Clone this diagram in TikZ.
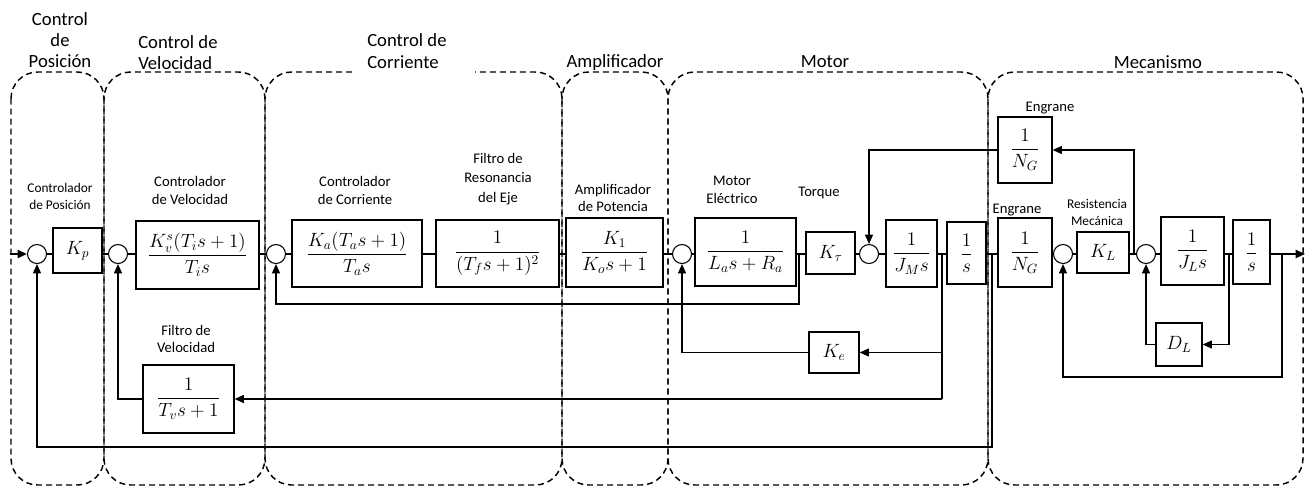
\documentclass[tikz,border=0pt]{standalone}
\usepackage{amsmath}
\usepackage{fontspec}
\setmainfont{Carlito}
\usetikzlibrary{arrows.meta}
\begin{document}
\begin{tikzpicture}[x=0.75pt,y=-0.75pt,
 grp/.style={draw, line width=1.1pt, dash pattern=on 4.5pt off 3pt, rounded corners=20pt},
 blk/.style={draw, line width=0.9pt, inner sep=0pt, font=\fontsize{14.5}{17}\selectfont},
 sumc/.style={draw, circle, line width=0.8pt, minimum size=14.25pt, inner sep=0pt},
 mainln/.style={line width=1.5pt},
 fb/.style={line width=1pt},
 arr/.style={fb, -{Triangle[length=7pt,width=6pt]}},
 marr/.style={mainln, -{Triangle[length=7pt,width=6pt]}},
 ttl/.style={font=\fontsize{14}{16}\selectfont, align=center, inner sep=0pt},
 lbl/.style={font=\fontsize{11}{13}\selectfont, align=center, inner sep=0pt},
]
\useasboundingbox (0,0) rectangle (1312,487);

% group boxes
\draw[grp] (11,72) rectangle (104,485);
\draw[grp] (104,72) rectangle (265,485);
\draw[grp] (352,72) -- (265,72) -- (265,485) -- (562,485) -- (562,72) -- (475,72);
\draw[grp] (562,72) rectangle (668,485);
\draw[grp] (668,72) rectangle (988,485);
\draw[grp] (988,72) rectangle (1303,485);

% titles
\node[ttl] (t1) at (60,40) {Control\\de\\Posición};
\node[ttl, align=left, anchor=west] (t2) at (138,52.5) {Control de\\Velocidad};
\node[ttl, align=left, anchor=west] (t3) at (367,51) {Control de\\Corriente};
\node[ttl] (t4) at (615,63) {Amplificador};
\node[ttl] (t5) at (825,62) {Motor};
\node[ttl] (t6) at (1158,62) {Mecanismo};

% labels
\node[lbl, font=\fontsize{10}{13}\selectfont] (l1) at (60,196.5) {Controlador\\de Posición};
\node[lbl] (l2) at (190,190.5) {Controlador\\de Velocidad};
\node[lbl] (l3) at (355,190.5) {Controlador\\de Corriente};
\node[lbl, font=\fontsize{11}{14.5}\selectfont] (l4) at (498,179) {Filtro de\\Resonancia\\del Eje};
\node[lbl] (l5) at (613,198) {Amplificador\\de Potencia};
\node[lbl] (l6) at (732,190) {Motor\\Eléctrico};
\node[lbl] (l7) at (819,193) {Torque};
\node[lbl] (l8) at (1050,108) {Engrane};
\node[lbl] (l9) at (1017,210) {Engrane};
\node[lbl, font=\fontsize{10}{12.5}\selectfont] (l10) at (1097,212.5) {Resistencia\\Mecánica};
\node[lbl] (l11) at (186,339) {Filtro de\\Velocidad};

% blocks
\node[blk, minimum width=49*0.75pt, minimum height=45*0.75pt] (kp) at (77.5,250.5) {$K_p$};
\node[blk, minimum width=123*0.75pt, minimum height=68*0.75pt] (cv) at (197.5,255) {$\dfrac{K_v^s(T_i s+1)}{T_i s}$};
\node[blk, minimum width=130*0.75pt, minimum height=67*0.75pt] (ca) at (357,253.5) {$\dfrac{K_a(T_a s+1)}{T_a s}$};
\node[blk, minimum width=123*0.75pt, minimum height=67*0.75pt] (cf) at (497.5,253.5) {$\dfrac{1}{(T_f s+1)^2}$};
\node[blk, minimum width=97*0.75pt, minimum height=69*0.75pt] (amp) at (614.5,252.5) {$\dfrac{K_1}{K_o s+1}$};
\node[blk, minimum width=101*0.75pt, minimum height=68*0.75pt] (mot) at (745.5,252) {$\dfrac{1}{L_a s+R_a}$};
\node[blk, minimum width=49*0.75pt, minimum height=42*0.75pt] (kt) at (830.5,253) {$K_\tau$};
\node[blk, minimum width=51*0.75pt, minimum height=67*0.75pt] (jm) at (911.5,253.5) {$\dfrac{1}{J_M s}$};
\node[blk, minimum width=39*0.75pt, minimum height=62*0.75pt] (int1) at (966.5,253) {$\dfrac{1}{s}$};
\node[blk, minimum width=54*0.75pt, minimum height=69*0.75pt] (ng) at (1025,252.5) {$\dfrac{1}{N_G}$};
\node[blk, minimum width=54*0.75pt, minimum height=66*0.75pt] (ngt) at (1025,150) {$\dfrac{1}{N_G}$};
\node[blk, minimum width=52*0.75pt, minimum height=41*0.75pt] (kl) at (1103,252.5) {$K_L$};
\node[blk, minimum width=63*0.75pt, minimum height=68*0.75pt] (jl) at (1192.5,251) {$\dfrac{1}{J_L s}$};
\node[blk, minimum width=37*0.75pt, minimum height=64*0.75pt] (int2) at (1251.5,252) {$\dfrac{1}{s}$};
\node[blk, minimum width=50*0.75pt, minimum height=41*0.75pt] (ke) at (834,352.5) {$K_e$};
\node[blk, minimum width=91*0.75pt, minimum height=68*0.75pt] (tv) at (188.5,399) {$\dfrac{1}{T_v s+1}$};
\node[blk, minimum width=46*0.75pt, minimum height=43*0.75pt] (dl) at (1179,344.5) {$D_L$};

% summing junctions
\node[sumc] (s1) at (37,254) {};
\node[sumc] (s2) at (118,254) {};
\node[sumc] (s3) at (276,254) {};
\node[sumc] (s4) at (682,254) {};
\node[sumc] (s5) at (869,254) {};
\node[sumc] (s6) at (1063,254) {};
\node[sumc] (s7) at (1146,254) {};

% coordinates
\coordinate (ml) at (0,254);
\coordinate (in) at (10,254);
\coordinate (out) at (1305,254);
\coordinate (c1) at (799,254);
\coordinate (c1b) at (799,304);
\coordinate (w) at (942,254);
\coordinate (w1) at (942,352.5);
\coordinate (w2) at (942,399);
\coordinate (p) at (992,254);
\coordinate (p1) at (992,447);
\coordinate (t) at (1134,254);
\coordinate (m) at (1229,254);
\coordinate (o) at (1282,254);
\coordinate (o1) at (1282,377);

% main line
\draw[marr] (in) -- (s1.west);
\draw[mainln] (s1.east) -- (ml -| kp.west);
\draw[mainln] (ml -| kp.east) -- (s2.west);
\draw[mainln] (s2.east) -- (ml -| cv.west);
\draw[mainln] (ml -| cv.east) -- (s3.west);
\draw[mainln] (s3.east) -- (ml -| ca.west);
\draw[mainln] (ml -| ca.east) -- (ml -| cf.west);
\draw[mainln] (ml -| cf.east) -- (ml -| amp.west);
\draw[mainln] (ml -| amp.east) -- (s4.west);
\draw[mainln] (s4.east) -- (ml -| mot.west);
\draw[mainln] (ml -| mot.east) -- (ml -| kt.west);
\draw[mainln] (ml -| kt.east) -- (s5.west);
\draw[mainln] (s5.east) -- (ml -| jm.west);
\draw[mainln] (ml -| jm.east) -- (ml -| int1.west);
\draw[mainln] (ml -| int1.east) -- (ml -| ng.west);
\draw[mainln] (ml -| ng.east) -- (s6.west);
\draw[mainln] (s6.east) -- (ml -| kl.west);
\draw[mainln] (ml -| kl.east) -- (s7.west);
\draw[mainln] (s7.east) -- (ml -| jl.west);
\draw[mainln] (ml -| jl.east) -- (ml -| int2.west);
\draw[marr] (ml -| int2.east) -- (out);

% feedback paths
\draw[arr] (c1) -- (c1b) -| (s3.south);
\draw[fb] (w) -- (w2);
\draw[arr] (w1) -- (ke.east);
\draw[arr] (ke.west) -| (s4.south);
\draw[arr] (w2) -- (tv.east);
\draw[arr] (tv.west) -| (s2.south);
\draw[arr] (p) -- (p1) -| (s1.south);
\draw[arr] (t) |- (ngt.east);
\draw[arr] (ngt.west) -| (s5.north);
\draw[arr] (m) |- (dl.east);
\draw[arr] (dl.west) -| (s7.south);
\draw[arr] (o) -- (o1) -| (s6.south);
\end{tikzpicture}
\end{document}
